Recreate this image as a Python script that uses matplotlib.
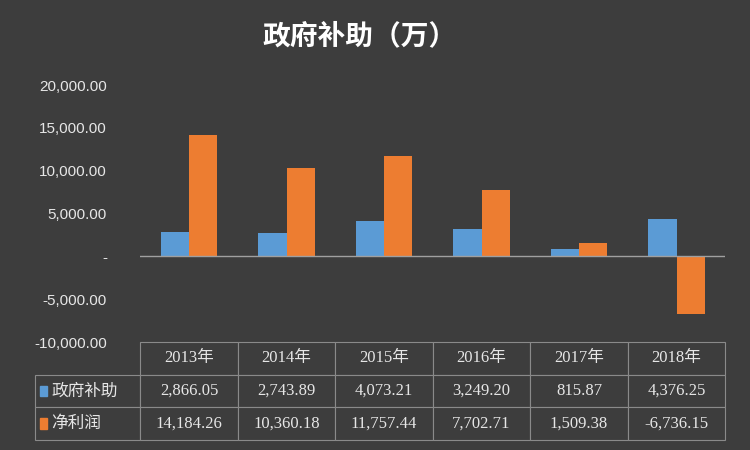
import numpy as np
import matplotlib
matplotlib.use('Agg')
import matplotlib.pyplot as plt

plt.rcParams['font.family'] = ['Noto Sans CJK SC', 'DejaVu Sans']

years = ['2013年', '2014年', '2015年', '2016年', '2017年', '2018年']
subsidy = [2866.05, 2743.89, 4073.21, 3249.20, 815.87, 4376.25]
profit = [14184.26, 10360.18, 11757.44, 7702.71, 1509.38, -6736.15]
series_names = ['政府补助', '净利润']
yticks = [-10000, -5000, 0, 5000, 10000, 15000, 20000]

bg = '#3d3d3d'
blue = '#5b9bd5'
orange = '#ed7d31'
txt = '#e6e6e6'

fig = plt.figure(figsize=(7.5, 4.5), dpi=100, facecolor=bg)
ax = fig.add_axes([0.187, 0.24, 0.78, 0.571], facecolor=bg)

x = np.arange(len(years))
w = 0.29
ax.bar(x - w/2, subsidy, w, color=blue)
ax.bar(x + w/2, profit, w, color=orange)
ax.axhline(0, color='#a0a0a0', lw=1)
ax.set_xlim(-0.5, len(years) - 0.5)
ax.set_ylim(-10000, 20000)
ax.set_yticks(yticks)
ax.set_yticklabels(['{:,.2f}'.format(v) if v != 0 else '-' for v in yticks],
                   color=txt, fontsize=11, family=['Liberation Sans', 'DejaVu Sans'])
ax.tick_params(length=0, pad=24)
ax.set_xticks([])
for s in ax.spines.values():
    s.set_visible(False)

fig.text(0.48, 0.92, '政府补助（万）', color='white', fontsize=20,
         fontweight='bold', ha='center', va='center')

# data table
cells = [[''] + years,
         [series_names[0]] + ['{:,.2f}'.format(v) for v in subsidy],
         [series_names[1]] + ['{:,.2f}'.format(v) for v in profit]]
label_w = 105 / 585
colw = [label_w] + [1 / len(years)] * len(years)
tbl = ax.table(cellText=cells, colWidths=colw, cellLoc='center',
               bbox=[-label_w, -0.381, 1 + label_w, 0.381])
tbl.auto_set_font_size(False)
for (r, c), cell in tbl.get_celld().items():
    cell.set_facecolor(bg)
    cell.set_edgecolor('#8a8a8a')
    cell.set_linewidth(0.8)
    t = cell.get_text()
    t.set_color(txt)
    t.set_fontsize(12)
    if r == 0 and c == 0:
        cell.set_edgecolor(bg)
        cell.visible_edges = ''
    if c == 0 and r > 0:
        t.set_ha('left')
        cell.PAD = 0.15
    elif r > 0:
        t.set_family(['Liberation Serif', 'DejaVu Serif'])
    else:
        t.set_family(['Liberation Serif', 'Noto Sans CJK SC'])

# legend keys in row label cells
for r, col in [(1, blue), (2, orange)]:
    yc = -0.381 + 0.381 * (2 - r + 0.5) / 3
    ax.add_patch(plt.Rectangle((-label_w + 0.008, yc - 0.02), 0.012, 0.04,
                               color=col, transform=ax.transAxes, clip_on=False))

fig.savefig('out.png', dpi=100, facecolor=bg)
